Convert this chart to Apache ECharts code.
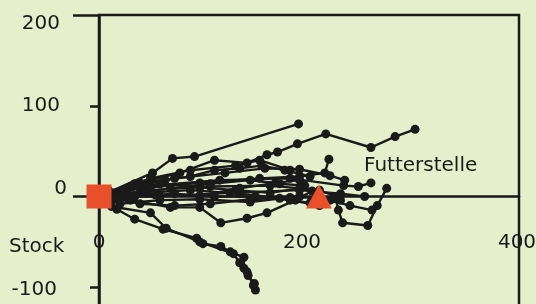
<!DOCTYPE html>
<html>
<head>
<meta charset="utf-8">
<script src="https://cdn.jsdelivr.net/npm/echarts@6/dist/echarts.min.js"></script>
<style>
  html, body { margin: 0; padding: 0; background: #e5efcc; }
  #chart { width: 536px; height: 304px; }
</style>
</head>
<body>
<div id="chart"></div>
<script>
// tick labels
const xTicks = [0, 200, 400]
const yTicks = [200, 100, 0, -100]

// trajectories, [x, y] per point
const track01 = [[0, 0], [51, 26], [70, 42], [91, 44], [190, 80]]
const track02 = [[0, 0], [39, 15], [77, 26], [110, 40], [141, 37], [160, 46], [170, 49], [189, 58], [216, 69], [259, 54], [282, 66], [301, 74]]
const track03 = [[0, 0], [17, -14], [34, -25], [61, -36], [93, -46], [99, -52], [116, -55], [125, -61], [138, -67], [138, -79], [142, -87], [148, -96], [149, -103]]
const track04 = [[0, 0], [12, -11], [49, -18], [64, -35], [96, -50], [128, -63], [134, -73], [141, -83], [147, -98]]
const track05 = [[0, 0], [30, -4], [68, -12], [96, -12], [116, -29], [141, -24], [160, -18], [187, -4], [203, 6]]
const track06 = [[0, 0], [49, 7], [106, 11], [163, 12], [210, 7], [225, 0], [228, -15], [232, -29], [256, -32], [265, -10], [274, 9]]
const track07 = [[0, 0], [39, 9], [96, 15], [153, 20], [191, 22], [215, 26], [219, 41]]
const track08 = [[0, 0], [49, 12], [115, 18], [182, 20], [233, 12], [247, 11], [259, 15]]
const track09 = [[0, 0], [58, 0], [125, 4], [191, 7], [230, 3], [253, 0]]
const track10 = [[0, 0], [30, 11], [63, 18], [87, 22], [110, 29], [134, 31], [155, 34], [177, 29], [201, 22]]
const track11 = [[0, 0], [44, 4], [87, 7], [134, 3], [172, -2], [201, -7]]
const track12 = [[0, 0], [20, -8], [58, -4], [96, -3], [144, -6], [182, -1], [210, -1]]
const track13 = [[0, 0], [25, 2], [68, 9], [106, 14], [144, 18], [172, 14], [196, 12]]
const track14 = [[0, 0], [34, 14], [72, 20], [120, 26], [158, 31], [191, 30], [220, 23], [234, 18]]
const track15 = [[0, 0], [53, 2], [96, 1], [134, 9], [168, 15], [191, 18]]
const track16 = [[0, 0], [15, -2], [39, -8], [72, -10], [106, -8], [144, -3], [191, 0], [220, -4], [239, -10], [260, -15]]
const track17 = [[0, 0], [49, 20], [87, 29], [130, 34], [153, 40], [182, 29]]
const track18 = [[0, 0], [9, 7], [28, 9], [58, 14], [96, 10], [130, 7], [163, 4], [191, 9]]
const track19 = [[0, 0], [10, -4], [34, 0], [72, 3], [110, 0], [149, 0], [182, -4], [210, -10], [230, -4]]

const tracks = [track01, track02, track03, track04, track05, track06, track07, track08, track09, track10,
  track11, track12, track13, track14, track15, track16, track17, track18, track19]

const startPoint = [0, 0]
const feeder = [209.5, 0]

const ink = '#1a1a1a'
const red = '#e8502b'
const font = 'DejaVu Sans'

const myChart = echarts.init(document.getElementById('chart'))

const lineSeries = tracks.map((t) => ({
  type: 'line',
  data: t,
  symbol: 'circle',
  symbolSize: 9,
  showSymbol: true,
  showAllSymbol: true,
  itemStyle: { color: ink },
  lineStyle: { color: ink, width: 2.4 },
  clip: false,
  silent: true
}))

const options = {
  backgroundColor: '#e5efcc',
  animation: false,
  grid: {
    left: 99,
    right: 17,
    top: 15,
    bottom: -74,
    containLabel: false,
    outerBoundsMode: 'none',
    show: true,
    borderColor: ink,
    borderWidth: 2.5,
    backgroundColor: 'transparent'
  },
  xAxis: {
    type: 'value',
    min: 0,
    max: 400,
    interval: 200,
    // grid bottom is below the canvas, lift the axis to y = 0
    offset: -181.5,
    axisLine: { show: true, onZero: false, lineStyle: { color: ink, width: 2.5 } },
    axisTick: { show: false },
    splitLine: { show: false },
    axisLabel: {
      margin: 36,
      showMaxLabel: true,
      showMinLabel: true,
      hideOverlap: false,
      formatter: (v) => {
        if (!xTicks.includes(v)) return ''
        if (v === 200) return '{a|' + v + '}'
        if (v === 400) return '{b|' + v + '}'
        return '{c|' + v + '}'
      },
      rich: {
        a: { fontSize: 20, fontFamily: font, color: ink, padding: [0, 14, 0, 0] },
        b: { fontSize: 20, fontFamily: font, color: ink, padding: [0, 4, 0, 0] },
        c: { fontSize: 20, fontFamily: font, color: ink }
      }
    }
  },
  yAxis: [
    {
      type: 'value',
      min: -200,
      max: 200,
      interval: 100,
      axisLine: { show: true, onZero: false, lineStyle: { color: ink, width: 2.5 } },
      axisTick: { show: true, length: 9, lineStyle: { color: ink, width: 2.5 } },
      splitLine: { show: false },
      axisLabel: {
        margin: 32,
        showMaxLabel: true,
        hideOverlap: false,
        formatter: (v) => {
          if (!yTicks.includes(v)) return ''
          if (v === 0) return '{z|0}'
          if (v === -100) return '{n|' + v + '}'
          if (v === 200) return '{t|' + v + '}'
          return '{p|' + v + '}'
        },
        rich: {
          t: { fontSize: 20, fontFamily: font, color: ink, padding: [18, 7, 0, 0] },
          p: { fontSize: 20, fontFamily: font, color: ink, padding: [0, 7, 0, 0] },
          z: { fontSize: 20, fontFamily: font, color: ink, padding: [0, 0, 16, 0] },
          n: { fontSize: 20, fontFamily: font, color: ink, padding: [6, 10, 0, 0] }
        }
      }
    },
    {
      // long ticks at 200 and 0
      type: 'value',
      position: 'left',
      min: -200,
      max: 200,
      interval: 200,
      axisLine: { show: false, onZero: false },
      axisTick: { show: true, length: 26, lineStyle: { color: ink, width: 2.5 } },
      axisLabel: { show: false },
      splitLine: { show: false }
    }
  ],
  graphic: [
    {
      type: 'text',
      left: 9,
      top: 237,
      style: { text: 'Stock', fontSize: 20, fontFamily: font, fill: ink }
    },
    {
      type: 'text',
      left: 364,
      top: 156,
      style: { text: 'Futterstelle', fontSize: 20, fontFamily: font, fill: ink }
    }
  ],
  series: [
    ...lineSeries,
    {
      type: 'scatter',
      data: [startPoint],
      symbol: 'rect',
      symbolSize: [25, 24],
      itemStyle: { color: red, opacity: 1 },
      clip: false,
      z: 5
    },
    {
      type: 'scatter',
      data: [feeder],
      symbol: 'triangle',
      symbolSize: [26, 24],
      itemStyle: { color: red, opacity: 1 },
      clip: false,
      z: 5
    }
  ]
}

myChart.setOption(options)
</script>
</body>
</html>
